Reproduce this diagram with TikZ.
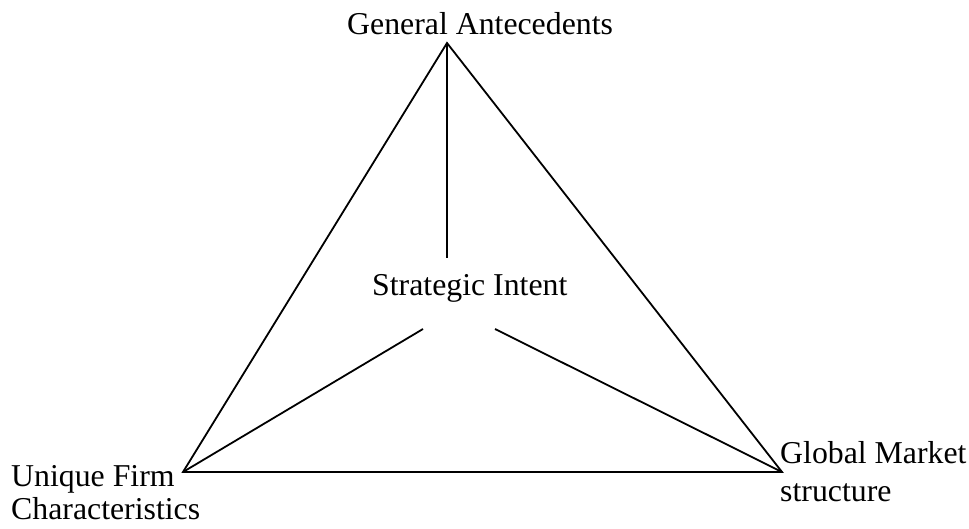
\documentclass[tikz,border=0pt]{standalone}
\usepackage{fontspec}
\setmainfont{Liberation Serif}
\begin{document}
\begin{tikzpicture}[x=1pt,y=-1pt,
  lbl/.style={inner sep=0pt,font=\fontsize{31.8}{34}\selectfont,align=left},
  edge/.style={line width=1.8pt,line join=miter}]
\useasboundingbox (0,0) rectangle (969,529);
\coordinate (top) at (447,43);
\coordinate (bl) at (183,472);
\coordinate (br) at (782,472);
\coordinate (ctop) at (447,258);
\coordinate (cl) at (423,329);
\coordinate (cr) at (495,329);
\draw[edge] (top) -- (bl) -- (br) -- cycle;
\draw[edge] (top) -- (ctop);
\draw[edge] (bl) -- (cl);
\draw[edge] (br) -- (cr);
\node[lbl,anchor=base west] (ga) at (347,35) {General Antecedents};
\node[lbl,anchor=base west] (si) at (372,295) {Strategic Intent};
\node[lbl,anchor=north west,font=\fontsize{31.8}{33}\selectfont] (uf) at (11,465) {Unique Firm\\Characteristics};
\node[lbl,anchor=north west,font=\fontsize{31.8}{38}\selectfont] (gm) at (780,441.5) {Global Market\\structure};
\end{tikzpicture}
\end{document}
